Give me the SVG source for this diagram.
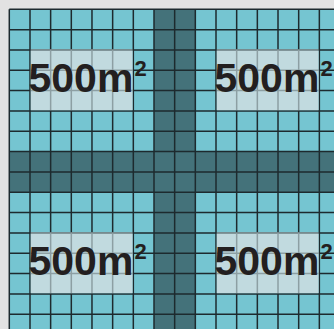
<svg xmlns="http://www.w3.org/2000/svg" width="334" height="329" viewBox="0 0 334 329">
<style>
.teal{fill:#75c5d1}
.band{fill:#44727a}
.light{fill:#c1dadf}
.grid{stroke:#1d2a2e;stroke-width:1.5;fill:none}
.fine{stroke:#8d9fa3;stroke-width:1.5;fill:none}
.lbl{font-family:"Liberation Sans",Arial,sans-serif;font-weight:bold;font-size:41px;fill:#231f20}
.sup{font-size:22px}
</style>
<rect x="0" y="0" width="334" height="329" fill="#e2e2e2"/>
<rect class="teal" x="9.3" y="9.3" width="325" height="320"/>
<g id="cross">
<rect class="band" x="154" y="9.3" width="41.3" height="320"/>
<rect class="band" x="9.3" y="151.6" width="325" height="40.7"/>
</g>
<g id="grid">
<path class="grid" d="M9.3 9.3V329M30 9.3V329M50.64 9.3V329M71.31 9.3V329M91.98 9.3V329M112.65 9.3V329M133.32 9.3V329M154 9.3V329M174.66 9.3V329M195.33 9.3V329M216 9.3V329M236.67 9.3V329M257.34 9.3V329M278.01 9.3V329M298.68 9.3V329M319.35 9.3V329
M9.3 9.3H334M9.3 29.63H334M9.3 49.96H334M9.3 70.29H334M9.3 90.62H334M9.3 110.95H334M9.3 131.28H334M9.3 151.61H334M9.3 171.94H334M9.3 192.27H334M9.3 212.6H334M9.3 232.93H334M9.3 253.26H334M9.3 273.59H334M9.3 293.92H334M9.3 314.25H334"/>
</g>
<g id="plot-top-left">
<rect class="light" x="30.75" y="50.71" width="101.82" height="59.49"/>
<path class="fine" d="M50.64 50.7V110.2M71.31 50.7V110.2M91.98 50.7V110.2M112.65 50.7V110.2M30.75 49.96H132.57M30.75 70.29H132.57M30.75 90.62H132.57"/>
<text class="lbl" x="28.5" y="92">500m<tspan class="sup" dx="1" dy="-16">2</tspan></text>
</g>
<g id="plot-top-right">
<rect class="light" x="216.75" y="50.71" width="101.85" height="59.49"/>
<path class="fine" d="M236.67 50.7V110.2M257.34 50.7V110.2M278.01 50.7V110.2M298.68 50.7V110.2M216.75 49.96H318.6M216.75 70.29H318.6M216.75 90.62H318.6"/>
<text class="lbl" x="214.5" y="92">500m<tspan class="sup" dx="1" dy="-16">2</tspan></text>
</g>
<g id="plot-bottom-left">
<rect class="light" x="30.75" y="233.68" width="101.82" height="59.49"/>
<path class="fine" d="M50.64 233.7V293.2M71.31 233.7V293.2M91.98 233.7V293.2M112.65 233.7V293.2M30.75 232.93H132.57M30.75 253.26H132.57M30.75 273.59H132.57"/>
<text class="lbl" x="28.5" y="275">500m<tspan class="sup" dx="1" dy="-16">2</tspan></text>
</g>
<g id="plot-bottom-right">
<rect class="light" x="216.75" y="233.68" width="101.85" height="59.49"/>
<path class="fine" d="M236.67 233.7V293.2M257.34 233.7V293.2M278.01 233.7V293.2M298.68 233.7V293.2M216.75 232.93H318.6M216.75 253.26H318.6M216.75 273.59H318.6"/>
<text class="lbl" x="214.5" y="275">500m<tspan class="sup" dx="1" dy="-16">2</tspan></text>
</g>
</svg>
